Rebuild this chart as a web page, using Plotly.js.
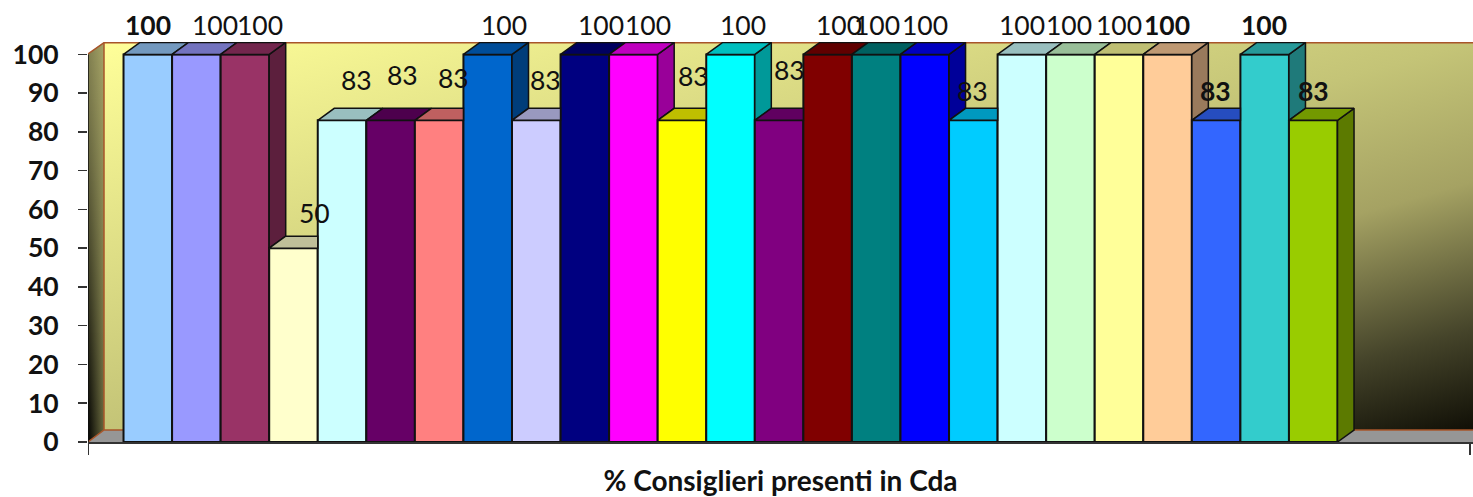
<!DOCTYPE html>
<html><head><meta charset="utf-8">
<script src="https://cdn.plot.ly/plotly-3.0.1.min.js"></script>
<style>html,body{margin:0;padding:0;background:#fff;overflow:hidden}</style></head>
<body><div id="chart" style="width:1473px;height:497px"></div>
<script>
const seriesNames = ["S1","S2","S3","S4","S5","S6","S7","S8","S9","S10","S11","S12","S13","S14","S15","S16","S17","S18","S19","S20","S21","S22","S23","S24","S25"];
const values = [100,100,100,50,83,83,83,100,83,100,100,83,100,83,100,100,100,83,100,100,100,100,83,100,83];
const colors = ["#99CCFF","#9999FF","#993366","#FFFFCC","#CCFFFF","#660066","#FF8080","#0066CC","#CCCCFF","#000080","#FF00FF","#FFFF00","#00FFFF","#800080","#800000","#008080","#0000FF","#00CCFF","#CCFFFF","#CCFFCC","#FFFF99","#FFCC99","#3366FF","#33CCCC","#99CC00"];
const boldLabels = [1,0,0,0,0,0,0,0,0,0,0,0,0,0,0,0,0,0,0,0,0,1,1,1,1];
const labelDx = [0,19,15,21,14,12,14,16,9,16,15,12,12,10,11,1,0,-1,0,-1,0,-1,-1,-1,0];
const labelDy = [29,29,29,35,40,45,42,29,40,29,29,44,29,50,29,29,29,29,29,29,29,29,29,29,29];

const W = 1473, H = 497, mL = 88, mT = 42.1, mB = 54.5;
const yMax = 103.2, xMin = -0.2315, xMax = 28.29;
const dX = 0.34, dY = 3.09;
const FONT = "Lato, Carlito, 'Liberation Sans', sans-serif";

function shade(hex, f) {
  const n = parseInt(hex.slice(1), 16);
  const c = [n >> 16, (n >> 8) & 255, n & 255].map(v => Math.round(v * f));
  return "rgb(" + c.join(",") + ")";
}
function frameImage() {
  const cw = W - mL, ch = 400;
  const c = document.createElement("canvas"); c.width = cw; c.height = ch;
  const g = c.getContext("2d");
  const wx = 16, wy = 388;
  // back wall
  g.save(); g.translate(wx, 0); g.scale(cw - wx, wy);
  let gr = g.createLinearGradient(0, 0, 1, 1);
  gr.addColorStop(0, "#FFFF99"); gr.addColorStop(0.5, "#C4C477");
  gr.addColorStop(0.68, "#A5A263"); gr.addColorStop(0.87, "#45442A"); gr.addColorStop(1, "#100F06");
  g.fillStyle = gr; g.fillRect(0, 0, 1, 1); g.restore();
  // left wall: lighter at the top and towards the back wall
  g.save(); g.beginPath(); g.moveTo(0, 12); g.lineTo(wx, 0); g.lineTo(wx, wy); g.lineTo(0, ch); g.closePath(); g.clip();
  gr = g.createLinearGradient(0, 0, 0, ch);
  gr.addColorStop(0, "#A5A366"); gr.addColorStop(1, "#66663C");
  g.fillStyle = gr; g.fillRect(0, 0, wx, ch);
  for (let y = 0; y < ch; y++) {
    const a = 0.22 + 0.76 * Math.pow(y / ch, 1.6);
    const row = g.createLinearGradient(0, 0, wx, 0);
    row.addColorStop(0, "rgba(0,0,0," + a + ")"); row.addColorStop(1, "rgba(0,0,0,0)");
    g.fillStyle = row; g.fillRect(0, y, wx, 1);
  }
  g.restore();
  // floor
  g.fillStyle = "#969696";
  g.beginPath(); g.moveTo(0, ch); g.lineTo(wx, wy); g.lineTo(cw, wy); g.lineTo(cw, ch); g.closePath(); g.fill();
  // edges
  g.strokeStyle = "#A8552A"; g.lineWidth = 1.5;
  g.beginPath(); g.moveTo(0, 12); g.lineTo(wx, 0.7); g.lineTo(cw, 0.7);
  g.moveTo(wx, 0.7); g.lineTo(wx, wy); g.lineTo(cw, wy);
  g.moveTo(wx, wy); g.lineTo(0, ch); g.stroke();
  return c.toDataURL("image/png");
}

const xs = values.map((_, i) => i + 1);
const traces = [{
  type: "bar", x: xs, y: values, width: 1, name: "front", text: seriesNames, textposition: "none",
  marker: { color: colors, line: { color: "#111111", width: 2 } }, hoverinfo: "skip"
}];
function face(px, py, fill) {
  traces.push({ type: "scatter", mode: "lines", x: px, y: py, fill: "toself", fillcolor: fill,
    line: { color: "#111111", width: 1.5 }, hoverinfo: "skip", cliponaxis: false });
}
values.forEach((v, i) => {
  const l = xs[i] - 0.5, r = xs[i] + 0.5, next = i + 1 < values.length ? values[i + 1] : null;
  // the part of the side face the next bar does not hide
  if (next === null) {
    face([r, r + dX, r + dX, r, r], [v, v + dY, dY, 0, v], shade(colors[i], 0.6));
  } else if (next < v) {
    face([r, r + dX, r + dX, r, r], [v, v + dY, next + dY, next, v], shade(colors[i], 0.6));
  }
  // the part of the top face the next bar does not hide
  const cut = next !== null && next > v;
  const tr = cut ? r : r + dX;
  face([l, r, tr, l + dX, l], [v, v, v + dY, v + dY, v], shade(colors[i], 0.75));
});
// value axis line, up to the last tick
traces.push({ type: "scatter", mode: "lines", x: [xMin, xMin], y: [0, 100], line: { color: "#111111", width: 1.5 }, hoverinfo: "skip", cliponaxis: false });

const annotations = values.map((v, i) => ({
  x: xs[i], y: v, xref: "x", yref: "y", text: String(v), showarrow: false,
  xanchor: "center", yanchor: "middle", xshift: labelDx[i], yshift: labelDy[i],
  font: { family: FONT, size: 26.5, color: "#111111", weight: boldLabels[i] ? 700 : 400 }
}));

const layout = {
  width: W, height: H, showlegend: false, paper_bgcolor: "#ffffff", plot_bgcolor: "rgba(0,0,0,0)",
  margin: { l: mL, r: 0, t: mT, b: mB, pad: 0 }, barmode: "overlay",
  xaxis: { type: "linear", range: [xMin, xMax], showgrid: false, zeroline: false, showline: true, linecolor: "#333333", linewidth: 1.5,
    tickmode: "array", tickvals: [xMin + 0.006, 28.23], ticktext: ["", ""], ticks: "outside", ticklen: 11, tickwidth: 1.5, tickcolor: "#333333",
    title: { text: "% Consiglieri presenti in Cda", standoff: 22, font: { family: FONT, size: 28, weight: 700, color: "#111111" } } },
  yaxis: { range: [0, yMax], showgrid: false, zeroline: false, showline: false, tickmode: "array",
    tickvals: [0,10,20,30,40,50,60,70,80,90,100], ticks: "outside", ticklen: 9, tickwidth: 1.5, tickcolor: "#333333", ticklabelstandoff: 14,
    tickfont: { family: FONT, size: 26.5, weight: 700, color: "#111111" } },
  images: [{ source: frameImage(), xref: "paper", yref: "paper", x: 0, y: 1, sizex: 1, sizey: 1, sizing: "stretch", xanchor: "left", yanchor: "top", layer: "below" }],
  annotations: annotations
};
Plotly.newPlot("chart", traces, layout, { displayModeBar: false, staticPlot: true });
</script></body></html>
